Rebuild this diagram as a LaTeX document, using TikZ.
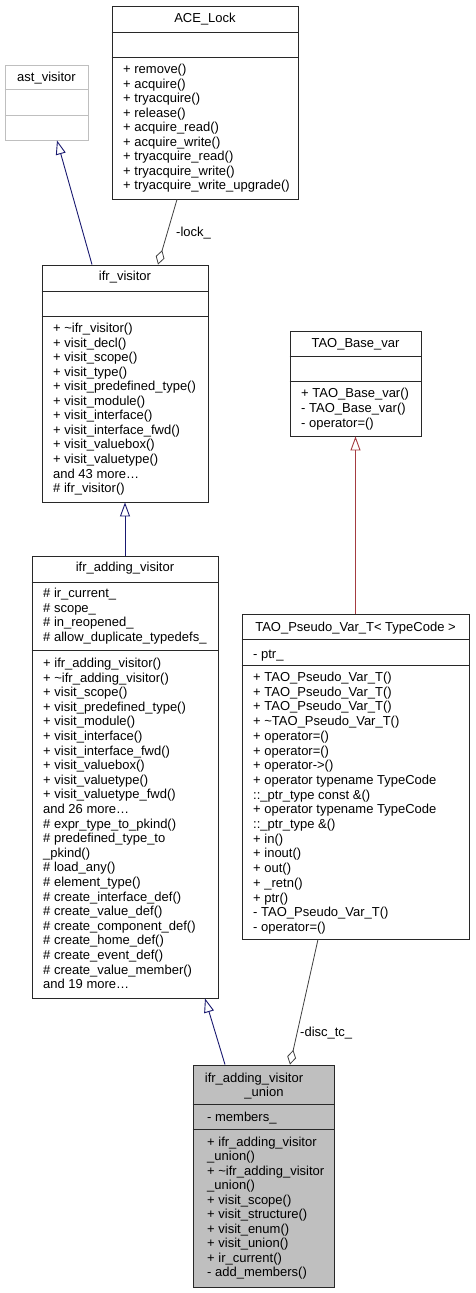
\documentclass[tikz,border=0pt]{standalone}
\usepackage{fontspec}
\setmainfont{Liberation Sans}
\usetikzlibrary{arrows.meta}
\definecolor{inhblue}{RGB}{25,25,112}
\definecolor{inhred}{RGB}{165,60,65}
\definecolor{agggray}{RGB}{64,64,64}
\definecolor{fillgray}{RGB}{191,191,191}
\definecolor{lightborder}{RGB}{191,191,191}
\definecolor{boxborder}{RGB}{40,40,40}
\newcommand\mylines[5]{%
  \foreach \t [count=\i] in {#5} {\node[txt] (#1\i) at (#2,{#3+#4*(\i-1)}) {\t};}}
\begin{document}
\begin{tikzpicture}[x=1pt,y=-1pt,
  box/.style={draw=boxborder, line width=0.9pt, inner sep=0pt},
  sep/.style={draw=boxborder, line width=0.9pt},
  txt/.style={anchor=base west, inner sep=0pt, font=\fontsize{13}{14.5}\selectfont},
  ttl/.style={anchor=base, inner sep=0pt, font=\fontsize{13}{14.5}\selectfont},
  inh/.style={draw=#1, line width=0.9pt, -{Triangle[open, length=14pt, width=10pt]}},
  agg/.style={draw=agggray, line width=0.8pt, -{Diamond[open, length=15pt, width=9pt]}},
  lbl/.style={anchor=base west, inner sep=0pt, font=\fontsize{13}{14.5}\selectfont}]
\useasboundingbox[fill=white] (0,0) rectangle (475,1293);

% ACE_Lock
\node[box, minimum width=186pt, minimum height=193pt] (ace) at (205,102.5) {};
\draw[sep] (ace.west |- 0,32) -- (ace.east |- 0,32);
\draw[sep] (ace.west |- 0,57) -- (ace.east |- 0,57);
\node[ttl] (acet) at (205,22) {ACE\_Lock};
\mylines{acem}{123}{73.5}{14.5}{+ remove(),+ acquire(),+ tryacquire(),+ release(),+ acquire\_read(),+ acquire\_write(),+ tryacquire\_read(),+ tryacquire\_write(),+ tryacquire\_write\_upgrade()}

% ast_visitor
\node[box, draw=lightborder, minimum width=83pt, minimum height=75pt] (ast) at (46.5,102.5) {};
\draw[sep, draw=lightborder] (ast.west |- 0,89) -- (ast.east |- 0,89);
\draw[sep, draw=lightborder] (ast.west |- 0,115) -- (ast.east |- 0,115);
\node[ttl] (astt) at (46.5,81.5) {ast\_visitor};

% ifr_visitor
\node[box, minimum width=166pt, minimum height=237pt] (ifrv) at (125,383.5) {};
\draw[sep] (ifrv.west |- 0,291) -- (ifrv.east |- 0,291);
\draw[sep] (ifrv.west |- 0,316) -- (ifrv.east |- 0,316);
\node[ttl] (ifrvt) at (125,280.5) {ifr\_visitor};
\mylines{ifrvm}{53}{332.5}{14.55}{+ \textasciitilde ifr\_visitor(),+ visit\_decl(),+ visit\_scope(),+ visit\_type(),+ visit\_predefined\_type(),+ visit\_module(),+ visit\_interface(),+ visit\_interface\_fwd(),+ visit\_valuebox(),+ visit\_valuetype(),and 43 more\dots,\# ifr\_visitor()}

% ifr_adding_visitor
\node[box, minimum width=186pt, minimum height=442pt] (ifra) at (125,777) {};
\draw[sep] (ifra.west |- 0,582) -- (ifra.east |- 0,582);
\draw[sep] (ifra.west |- 0,650) -- (ifra.east |- 0,650);
\node[ttl] (ifrat) at (125,571.5) {ifr\_adding\_visitor};
\mylines{ifraa}{43}{597.5}{14.5}{\# ir\_current\_,\# scope\_,\# in\_reopened\_,\# allow\_duplicate\_typedefs\_}
\mylines{ifram}{43}{667.5}{14.6}{+ ifr\_adding\_visitor(),+ \textasciitilde ifr\_adding\_visitor(),+ visit\_scope(),+ visit\_predefined\_type(),+ visit\_module(),+ visit\_interface(),+ visit\_interface\_fwd(),+ visit\_valuebox(),+ visit\_valuetype(),+ visit\_valuetype\_fwd(),and 26 more\dots,\# expr\_type\_to\_pkind(),\# predefined\_type\_to,\_pkind(),\# load\_any(),\# element\_type(),\# create\_interface\_def(),\# create\_value\_def(),\# create\_component\_def(),\# create\_home\_def(),\# create\_event\_def(),\# create\_value\_member(),and 19 more\dots}

% TAO_Base_var
\node[box, minimum width=131pt, minimum height=105pt] (tbase) at (355.5,383.5) {};
\draw[sep] (tbase.west |- 0,356) -- (tbase.east |- 0,356);
\draw[sep] (tbase.west |- 0,381) -- (tbase.east |- 0,381);
\node[ttl] (tbaset) at (355.5,347.5) {TAO\_Base\_var};
\mylines{tbasem}{301}{397.5}{14.9}{+ TAO\_Base\_var(),- TAO\_Base\_var(),- operator=()}

% TAO_Pseudo_Var_T
\node[box, minimum width=227pt, minimum height=325pt] (tpv) at (355.5,776.5) {};
\draw[sep] (tpv.west |- 0,639) -- (tpv.east |- 0,639);
\draw[sep] (tpv.west |- 0,665) -- (tpv.east |- 0,665);
\node[ttl] (tpvt) at (355.5,631.5) {TAO\_Pseudo\_Var\_T< TypeCode >};
\mylines{tpva}{253}{658.5}{14.7}{- ptr\_}
\mylines{tpvm}{253}{681.5}{14.7}{+ TAO\_Pseudo\_Var\_T(),+ TAO\_Pseudo\_Var\_T(),+ TAO\_Pseudo\_Var\_T(),+ \textasciitilde TAO\_Pseudo\_Var\_T(),+ operator=(),+ operator=(),+ operator->(),+ operator typename TypeCode,::\_ptr\_type const \&(),+ operator typename TypeCode,::\_ptr\_type \&(),+ in(),+ inout(),+ out(),+ \_retn(),+ ptr(),- TAO\_Pseudo\_Var\_T(),- operator=()}

% ifr_adding_visitor_union
\node[box, fill=fillgray, minimum width=141pt, minimum height=222pt] (uni) at (263.5,1176) {};
\draw[sep] (uni.west |- 0,1104) -- (uni.east |- 0,1104);
\draw[sep] (uni.west |- 0,1129) -- (uni.east |- 0,1129);
\node[ttl] (unit1) at (254,1082) {ifr\_adding\_visitor};
\node[ttl] (unit2) at (264,1096.5) {\_union};
\mylines{unia}{207}{1121.5}{14.5}{- members\_}
\mylines{unim}{207}{1146.5}{14.45}{+ ifr\_adding\_visitor,\_union(),+ \textasciitilde ifr\_adding\_visitor,\_union(),+ visit\_scope(),+ visit\_structure(),+ visit\_enum(),+ visit\_union(),+ ir\_current(),- add\_members()}

% connectors
\draw[inh=inhblue] ([xshift=-33pt]ifrv.north) -- ([xshift=10.5pt]ast.south);
\draw[agg] ([xshift=-28pt]ace.south) -- ([xshift=33pt]ifrv.north);
\node[lbl] (lock) at (176,236) {-lock\_};
\draw[inh=inhblue] (ifra.north) -- (ifrv.south);
\draw[inh=inhred] (tpv.north) -- (tbase.south);
\draw[inh=inhblue] ([xshift=-38.5pt]uni.north) -- ([xshift=80pt]ifra.south);
\draw[agg] ([xshift=-37.5pt]tpv.south) -- ([xshift=26.5pt]uni.north);
\node[lbl] (disc) at (300,1036) {-disc\_tc\_};
\end{tikzpicture}
\end{document}
